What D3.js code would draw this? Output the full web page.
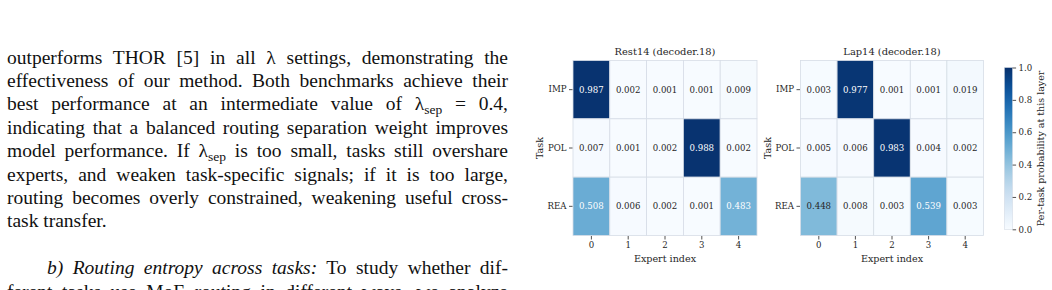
<!DOCTYPE html>
<html>
<head>
<meta charset="utf-8">
<script src="https://cdn.jsdelivr.net/npm/d3@7"></script>
<style>
  html, body { margin: 0; padding: 0; background: #fff; }
  body { width: 1052px; height: 290px; overflow: hidden; position: relative; }
  #text { position: absolute; left: 7px; top: 45.7px; width: 501px;
          font-family: "Liberation Serif", "Times New Roman", serif; font-size: 19.5px;
          line-height: 23.4px; color: #111; }
  #text .ln { white-space: nowrap; text-align: justify; text-align-last: justify; height: 23.4px; }
  #text .ln.last { text-align-last: left; }
  #text sub { font-size: 13.5px; line-height: 0; vertical-align: -4px; }
  #chart { position: absolute; left: 0; top: 0; }
</style>
</head>
<body>
<div id="text"></div>
<div id="chart"></div>
<script>
// paragraph lines (left column)
var bodyLines = [
  {t: "outperforms THOR [5] in all \u03bb settings, demonstrating the"},
  {t: "effectiveness of our method. Both benchmarks achieve their"},
  {t: "best performance at an intermediate value of \u03bb<sub>sep</sub> = 0.4,"},
  {t: "indicating that a balanced routing separation weight improves"},
  {t: "model performance. If \u03bb<sub>sep</sub> is too small, tasks still overshare"},
  {t: "experts, and weaken task-specific signals; if it is too large,"},
  {t: "routing becomes overly constrained, weakening useful cross-"},
  {t: "task transfer.", last: true},
  {t: "", last: true},
  {t: "<span style='display:inline-block;width:40px'></span><i>b) Routing entropy across tasks:</i> To study whether dif-"},
  {t: "ferent tasks use MoE routing in different ways, we analyze"}
];

// heatmap data
var tasks = ["IMP", "POL", "REA"];
var experts = [0, 1, 2, 3, 4];
var rest14 = [
  [0.987, 0.002, 0.001, 0.001, 0.009],
  [0.007, 0.001, 0.002, 0.988, 0.002],
  [0.508, 0.006, 0.002, 0.001, 0.483]
];
var lap14 = [
  [0.003, 0.977, 0.001, 0.001, 0.019],
  [0.005, 0.006, 0.983, 0.004, 0.002],
  [0.448, 0.008, 0.003, 0.539, 0.003]
];
var cbTicks = [0.0, 0.2, 0.4, 0.6, 0.8, 1.0];

d3.select("#text").selectAll("div.ln")
  .data(bodyLines)
  .enter().append("div")
    .attr("class", function(d) { return d.last ? "ln last" : "ln"; })
    .html(function(d) { return d.t; });

var W = 1052, H = 290;
var svg = d3.select("#chart").append("svg")
    .attr("width", W)
    .attr("height", H);

var font = "'DejaVu Serif', serif";
var ink = "#262626";
var color = d3.scaleSequential(d3.interpolateBlues).domain([0, 1]);

// seaborn-like annotation colour
function lum(c) {
  var rgb = d3.rgb(c);
  var f = function(v) { v = v / 255; return v <= 0.03928 ? v / 12.92 : Math.pow((v + 0.055) / 1.055, 2.4); };
  return 0.2126 * f(rgb.r) + 0.7152 * f(rgb.g) + 0.0722 * f(rgb.b);
}

var yTop = 60.5, yBot = 235.5;

function heatmap(data, title, x0, x1) {
  var x = d3.scaleBand().domain(experts).range([x0, x1]);
  var y = d3.scaleBand().domain(tasks).range([yTop, yBot]);
  var g = svg.append("g");

  var cells = [];
  data.forEach(function(row, i) {
    row.forEach(function(v, j) { cells.push({task: tasks[i], exp: experts[j], v: v}); });
  });

  g.selectAll("rect.cell")
    .data(cells)
    .enter().append("rect")
      .attr("class", "cell")
      .attr("x", function(d) { return x(d.exp); })
      .attr("y", function(d) { return y(d.task); })
      .attr("width", x.bandwidth())
      .attr("height", y.bandwidth())
      .attr("fill", function(d) { return color(d.v); })
      .attr("stroke", "#d6dde6")
      .attr("stroke-width", 0.8);

  g.selectAll("text.ann")
    .data(cells)
    .enter().append("text")
      .attr("class", "ann")
      .attr("x", function(d) { return x(d.exp) + x.bandwidth() / 2; })
      .attr("y", function(d) { return y(d.task) + y.bandwidth() / 2; })
      .attr("dy", "0.35em")
      .attr("text-anchor", "middle")
      .attr("font-family", font)
      .attr("font-size", 8.6)
      .attr("fill", function(d) { return lum(color(d.v)) > 0.408 ? ink : "#ffffff"; })
      .text(function(d) { return d3.format(".3f")(d.v); });

  var ax = g.append("g")
    .attr("transform", "translate(0," + (yBot + 0.5) + ")")
    .call(d3.axisBottom(x).tickSize(3.5).tickPadding(2.5));
  var ay = g.append("g")
    .attr("transform", "translate(" + (x0 - 0.5) + ",0)")
    .call(d3.axisLeft(y).tickSize(3.5).tickPadding(2.5));
  [ax, ay].forEach(function(a) {
    a.select(".domain").remove();
    a.selectAll("line").attr("stroke", ink).attr("stroke-width", 0.8);
    a.selectAll("text").attr("font-family", font).attr("font-size", 8.6).attr("fill", ink);
  });

  g.append("text")
    .attr("x", (x0 + x1) / 2)
    .attr("y", 55.3)
    .attr("text-anchor", "middle")
    .attr("font-family", font)
    .attr("font-size", 9.9)
    .attr("fill", ink)
    .text(title);

  g.append("text")
    .attr("x", (x0 + x1) / 2)
    .attr("y", 262)
    .attr("text-anchor", "middle")
    .attr("font-family", font)
    .attr("font-size", 9.6)
    .attr("fill", ink)
    .text("Expert index");

  g.append("text")
    .attr("transform", "translate(" + (x0 - 30) + "," + ((yTop + yBot) / 2) + ") rotate(-90)")
    .attr("text-anchor", "middle")
    .attr("font-family", font)
    .attr("font-size", 9.6)
    .attr("fill", ink)
    .text("Task");
}

heatmap(rest14, "Rest14 (decoder.18)", 573, 757);
heatmap(lap14, "Lap14 (decoder.18)", 800.5, 983.5);

// colorbar
var cbX = 1004.3, cbW = 8.3, cbTop = 67.5, cbBot = 229.3;
var cy = d3.scaleLinear().domain([0, 1]).range([cbBot, cbTop]);
var defs = svg.append("defs");
var grad = defs.append("linearGradient")
    .attr("id", "cbgrad")
    .attr("x1", 0).attr("y1", 1).attr("x2", 0).attr("y2", 0);
grad.selectAll("stop")
  .data(d3.range(0, 1.0001, 0.05))
  .enter().append("stop")
    .attr("offset", function(d) { return d; })
    .attr("stop-color", function(d) { return color(d); });

svg.append("rect")
  .attr("x", cbX).attr("y", cbTop)
  .attr("width", cbW).attr("height", cbBot - cbTop)
  .attr("fill", "url(#cbgrad)")
  .attr("stroke", "#d6dde6")
  .attr("stroke-width", 0.6);

var cax = svg.append("g")
  .attr("transform", "translate(" + (cbX + cbW) + ",0)")
  .call(d3.axisRight(cy).tickValues(cbTicks).tickFormat(d3.format(".1f")).tickSize(3.5).tickPadding(2.5));
cax.select(".domain").remove();
cax.selectAll("line").attr("stroke", ink).attr("stroke-width", 0.8);
cax.selectAll("text").attr("font-family", font).attr("font-size", 8.6).attr("fill", ink);

svg.append("text")
  .attr("transform", "translate(1041," + ((cbTop + cbBot) / 2) + ") rotate(-90)")
  .attr("text-anchor", "middle")
  .attr("dy", "0.35em")
  .attr("font-family", font)
  .attr("font-size", 9.5)
  .attr("fill", ink)
  .text("Per-task probability at this layer");
</script>
</body>
</html>
